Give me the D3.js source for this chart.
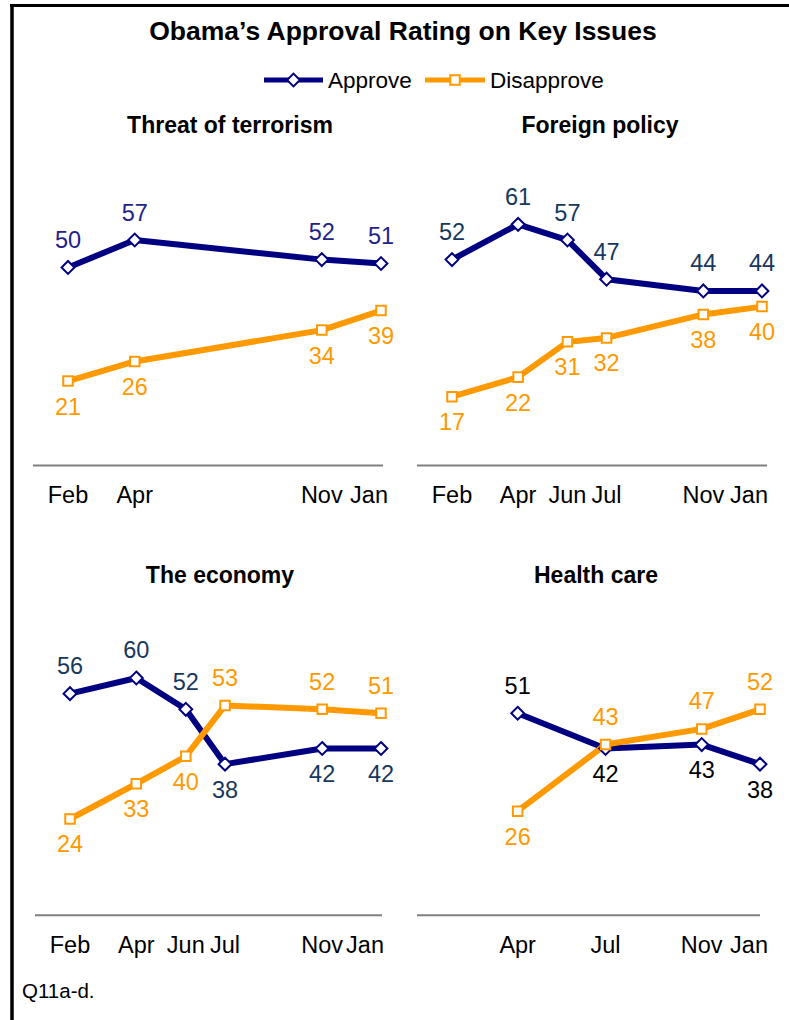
<!DOCTYPE html>
<html><head><meta charset="utf-8">
<script src="https://cdn.jsdelivr.net/npm/d3@7"></script>
<style>
body{margin:0;background:#fff}
svg{display:block}
text{font-family:"Liberation Sans",Arial,Helvetica,sans-serif}
</style>
</head><body>
<script>
// Survey waves: month label and fieldwork midpoint
const waveLabels = ["Feb", "Apr", "Jun", "Jul", "Nov", "Jan"];
const waveDates = ["2009-02-06", "2009-04-18", "2009-06-10", "2009-07-22", "2009-11-03", "2010-01-05"];

const terrorWaves = ["Feb", "Apr", "Nov", "Jan"];
const terrorApprove = [50, 57, 52, 51];
const terrorDisapprove = [21, 26, 34, 39];

const foreignWaves = ["Feb", "Apr", "Jun", "Jul", "Nov", "Jan"];
const foreignApprove = [52, 61, 57, 47, 44, 44];
const foreignDisapprove = [17, 22, 31, 32, 38, 40];

const economyWaves = ["Feb", "Apr", "Jun", "Jul", "Nov", "Jan"];
const economyApprove = [56, 60, 52, 38, 42, 42];
const economyDisapprove = [24, 33, 40, 53, 52, 51];

const healthWaves = ["Apr", "Jul", "Nov", "Jan"];
const healthApprove = [51, 42, 43, 38];
const healthDisapprove = [26, 43, 47, 52];

const seriesNames = ["Approve", "Disapprove"];

const NAVY = "#000080", ORANGE = "#FF9900";
const W = 789, H = 1020;
const pxPerPoint = 3.917;

const svg = d3.select("body").append("svg").attr("width", W).attr("height", H);

// frame (top and left rules)
svg.append("line").attr("x1", 10).attr("x2", W).attr("y1", 5.5).attr("y2", 5.5)
  .attr("stroke", "#000").attr("stroke-width", 3);
svg.append("line").attr("x1", 12).attr("x2", 12).attr("y1", 4).attr("y2", H)
  .attr("stroke", "#000").attr("stroke-width", 3.5);

svg.append("text").attr("x", 403).attr("y", 40).attr("text-anchor", "middle")
  .attr("font-size", 26.5).attr("font-weight", "bold").text("Obama’s Approval Rating on Key Issues");

// marker shapes
const diamond = d3.symbol().type(d3.symbolDiamond2).size(105);
const square = d3.symbol().type(d3.symbolSquare2).size(115);

function marker(g, type, color, x, y) {
  g.append("path").attr("d", type === 0 ? diamond() : square())
    .attr("transform", `translate(${x},${y})`)
    .attr("fill", "#fff").attr("stroke", color).attr("stroke-width", 2);
}

// legend
const legend = svg.append("g");
[[264, 323, 0, NAVY, 328], [425, 485, 1, ORANGE, 490]].forEach(([x1, x2, t, c, tx], i) => {
  legend.append("line").attr("x1", x1).attr("x2", x2).attr("y1", 80).attr("y2", 80)
    .attr("stroke", c).attr("stroke-width", 5);
  marker(legend, t, c, (x1 + x2) / 2, 80);
  legend.append("text").attr("x", tx).attr("y", 87.5).attr("font-size", 22.5).text(seriesNames[i]);
});

const dateScaleDomain = [new Date(waveDates[0]), new Date(waveDates[waveDates.length - 1])];

const panels = [
  { title: "Threat of terrorism", tx: 230, ty: 133, waves: terrorWaves, a: terrorApprove, d: terrorDisapprove,
    xr: [68, 381], zero: 463.3, axis: [33, 383], limit: 388, aColor: "#22228A" },
  { title: "Foreign policy", tx: 600, ty: 133, waves: foreignWaves, a: foreignApprove, d: foreignDisapprove,
    xr: [452, 762], zero: 463.3, axis: [417, 767], limit: 768, aColor: "#17375E" },
  { title: "The economy", tx: 220, ty: 583, waves: economyWaves, a: economyApprove, d: economyDisapprove,
    xr: [70, 381], zero: 913, axis: [35, 382], limit: 384, aColor: "#17375E" },
  { title: "Health care", tx: 596, ty: 583, waves: healthWaves, a: healthApprove, d: healthDisapprove,
    xr: [452, 760], zero: 913, axis: [417, 760], limit: 768, aColor: "#000" }
];

panels.forEach(p => {
  const g = svg.append("g");
  const x = d3.scaleTime().domain(dateScaleDomain).range(p.xr);
  const y = d3.scaleLinear().domain([0, 100]).range([p.zero, p.zero - 100 * pxPerPoint]);
  const xOf = w => x(new Date(waveDates[waveLabels.indexOf(w)]));

  g.append("text").attr("x", p.tx).attr("y", p.ty).attr("text-anchor", "middle")
    .attr("font-size", 23).attr("font-weight", "bold").text(p.title);

  // baseline rule
  g.append("line").attr("x1", p.axis[0]).attr("x2", p.axis[1])
    .attr("y1", p.zero + 2.3).attr("y2", p.zero + 2.3)
    .attr("stroke", "#808080").attr("stroke-width", 2);

  // month labels, kept inside the panel's right edge
  const ticks = g.selectAll("text.tick").data(p.waves).join("text")
    .attr("class", "tick").attr("y", p.zero + 40).attr("font-size", 23.5)
    .attr("text-anchor", "middle").attr("x", d => xOf(d)).text(d => d);
  ticks.each(function (d) {
    const bb = this.getBBox();
    if (bb.x + bb.width > p.limit) d3.select(this).attr("x", xOf(d) - (bb.x + bb.width - p.limit));
  });

  const line = d3.line().x(d => xOf(d.w)).y(d => y(d.v));
  const series = [
    { vals: p.a, other: p.d, color: NAVY, type: 0, labelColor: p.aColor },
    { vals: p.d, other: p.a, color: ORANGE, type: 1, labelColor: ORANGE }
  ];
  series.forEach(s => {
    const pts = p.waves.map((w, i) => ({ w, v: s.vals[i], o: s.other[i] }));
    g.append("path").datum(pts).attr("d", line).attr("fill", "none")
      .attr("stroke", s.color).attr("stroke-width", 6).attr("stroke-linejoin", "round");
    s.pts = pts;
  });
  series.forEach(s => {
    s.pts.forEach(d => marker(g, s.type, s.color, xOf(d.w), y(d.v)));
  });
  series.forEach(s => {
    s.pts.forEach(d => {
      const above = d.v > d.o;
      g.append("text").attr("x", xOf(d.w)).attr("y", y(d.v) + (above ? -19.5 : 33.5))
        .attr("text-anchor", "middle").attr("font-size", 23.5).attr("fill", s.labelColor).text(d.v);
    });
  });
});

svg.append("text").attr("x", 22).attr("y", 998).attr("font-size", 20.5).text("Q11a-d.");
</script>
</body></html>
